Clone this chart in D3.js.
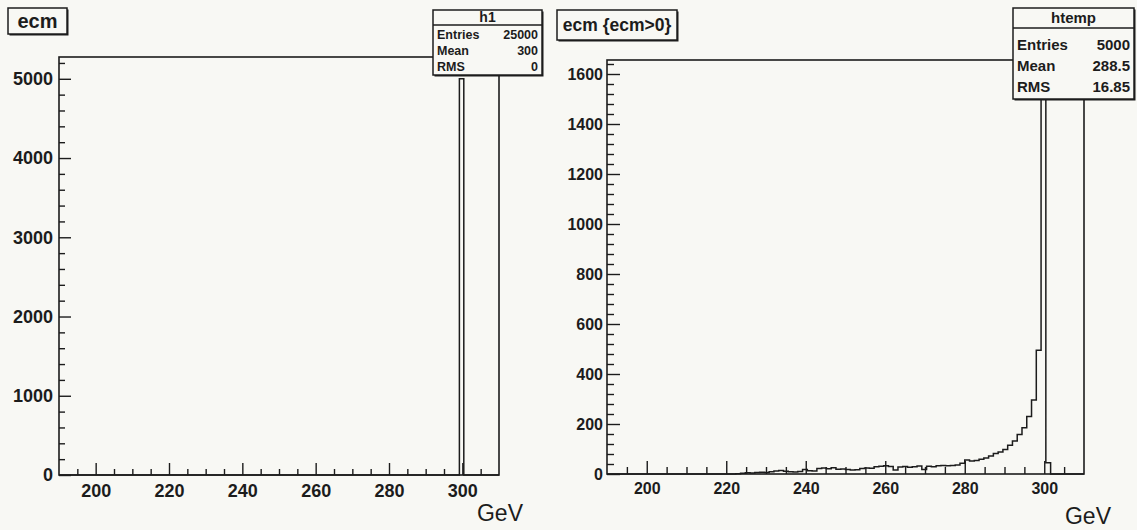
<!DOCTYPE html>
<html><head><meta charset="utf-8">
<script src="https://cdn.jsdelivr.net/npm/d3@7"></script>
<style>
html,body{margin:0;padding:0;background:#f8f8f4;}
svg{display:block;}
</style></head><body>
<svg id="c" width="1137" height="530"></svg>
<script>
// ---------------- data ----------------
const xDomain = [190, 310];          // GeV
const binWidth = 1.2;                // 100 bins over 190–310
const nBins = 100;
const xTickLabels = [200, 220, 240, 260, 280, 300];

// left histogram (h1): only one populated bin
const leftFilledBins = [91];         // bin 299.2–300.4 GeV
const leftFilledCounts = [5000];
const leftYTicks = [0, 1000, 2000, 3000, 4000, 5000];
const leftStats = [["Entries", "25000"], ["Mean", "300"], ["RMS", "0"]];

// right histogram (htemp): counts for bins 25..92
const rightFirstBin = 25;
const rightCounts = [
  0, 0, 1, 3, 5, 4, 6, 7, 6, 9,
  12, 14, 11, 9, 8, 10, 18, 13, 12, 22,
  24, 21, 25, 19, 20, 18, 16, 17, 22, 24,
  23, 29, 31, 33, 30, 16, 28, 30, 27, 29,
  32, 18, 31, 29, 33, 34, 33, 34, 36, 43,
  56, 52, 54, 59, 64, 72, 82, 88, 98, 115,
  132, 158, 185, 230, 296, 495, 1577, 45
];
const rightYTicks = [0, 200, 400, 600, 800, 1000, 1200, 1400, 1600];
const rightStats = [["Entries", "5000"], ["Mean", "288.5"], ["RMS", "16.85"]];

// ---------------- drawing ----------------
const svg = d3.select("#c");
const ink = "#1c1c1c";
const bg = "#f8f8f4";
const boldFont = "'Liberation Sans', Arial, sans-serif";
const fmt = d3.format("d");

function fullCounts(firstBin, arr) {
  const c = new Array(nBins).fill(0);
  arr.forEach((v, i) => { c[firstBin + i] = v; });
  return c;
}

function panel(o) {
  const x = d3.scaleLinear().domain(xDomain).range([o.left, o.right]);
  const y = d3.scaleLinear().domain([0, o.yTop]).range([o.bottom, o.top]);
  const g = svg.append("g");

  // histogram outline
  const pts = [[xDomain[0], 0]];
  o.counts.forEach((c, k) => {
    const lo = xDomain[0] + k * binWidth;
    pts.push([lo, c], [lo + binWidth, c]);
  });
  pts.push([xDomain[1], 0]);
  g.append("path")
    .attr("d", d3.line().x(d => x(d[0])).y(d => y(d[1]))(pts))
    .attr("fill", "none").attr("stroke", ink).attr("stroke-width", 1.5);

  // frame
  g.append("rect").attr("x", o.left).attr("y", o.top)
    .attr("width", o.right - o.left).attr("height", o.bottom - o.top)
    .attr("fill", "none").attr("stroke", ink).attr("stroke-width", 1.6);

  // y axis minor ticks
  const yMinor = d3.range(0, o.yTop, o.yMinorStep).filter(v => !o.yTicks.includes(v));
  g.append("g").attr("transform", `translate(${o.left},0)`)
    .call(d3.axisLeft(y).tickValues(yMinor).tickSizeInner(-o.minLen).tickSizeOuter(0).tickFormat(""))
    .call(s => s.select(".domain").remove())
    .selectAll("line").attr("stroke", ink).attr("stroke-width", 1.4);
  // y axis major
  const ya = g.append("g").attr("transform", `translate(${o.left},0)`)
    .call(d3.axisLeft(y).tickValues(o.yTicks).tickFormat(fmt)
      .tickSizeInner(-o.majLen).tickSizeOuter(0).tickPadding(o.yPad));
  ya.select(".domain").remove();
  ya.selectAll("line").attr("stroke", ink).attr("stroke-width", 1.4);
  ya.selectAll("text").attr("fill", ink).attr("font-family", boldFont)
    .attr("font-size", o.yFontSize).attr("font-weight", "bold");

  // x axis minor ticks (every 5 GeV)
  const xMinor = d3.range(195, 310, 5).filter(v => !xTickLabels.includes(v));
  g.append("g").attr("transform", `translate(0,${o.bottom})`)
    .call(d3.axisBottom(x).tickValues(xMinor).tickSizeInner(-o.minLen).tickSizeOuter(0).tickFormat(""))
    .call(s => s.select(".domain").remove())
    .selectAll("line").attr("stroke", ink).attr("stroke-width", 1.4);
  const xa = g.append("g").attr("transform", `translate(0,${o.bottom})`)
    .call(d3.axisBottom(x).tickValues(xTickLabels).tickFormat(fmt)
      .tickSizeInner(-o.majLen).tickSizeOuter(0).tickPadding(o.xPad));
  xa.select(".domain").remove();
  xa.selectAll("line").attr("stroke", ink).attr("stroke-width", 1.4);
  xa.selectAll("text").attr("fill", ink).attr("font-family", boldFont)
    .attr("font-size", o.xFontSize).attr("font-weight", "bold");

  // axis title
  g.append("text").attr("x", o.gevX).attr("y", o.gevY).attr("text-anchor", "end")
    .attr("font-family", boldFont).attr("font-size", 23).attr("fill", ink).text("GeV");

  // title box
  const tb = o.titleBox;
  g.append("rect").attr("x", tb.x + 1.5).attr("y", tb.y + 1.5).attr("width", tb.w).attr("height", tb.h).attr("fill", ink);
  g.append("rect").attr("x", tb.x).attr("y", tb.y).attr("width", tb.w).attr("height", tb.h)
    .attr("fill", bg).attr("stroke", ink).attr("stroke-width", 1.5);
  g.append("text").attr("x", tb.x + tb.w / 2).attr("y", tb.base).attr("text-anchor", "middle")
    .attr("font-family", boldFont).attr("font-weight", "bold").attr("font-size", tb.size)
    .attr("fill", ink).text(o.title);

  // stats box
  const sb = o.statBox;
  g.append("rect").attr("x", sb.x + 1.5).attr("y", sb.y + 1.5).attr("width", sb.w).attr("height", sb.h).attr("fill", ink);
  g.append("rect").attr("x", sb.x).attr("y", sb.y).attr("width", sb.w).attr("height", sb.h)
    .attr("fill", bg).attr("stroke", ink).attr("stroke-width", 1.5);
  g.append("line").attr("x1", sb.x).attr("x2", sb.x + sb.w).attr("y1", sb.line).attr("y2", sb.line)
    .attr("stroke", ink).attr("stroke-width", 1.3);
  g.append("text").attr("x", sb.x + sb.w / 2).attr("y", sb.headBase).attr("text-anchor", "middle")
    .attr("font-family", boldFont).attr("font-weight", "bold").attr("font-size", sb.headSize)
    .attr("fill", ink).text(o.name);
  o.stats.forEach((s, i) => {
    g.append("text").attr("x", sb.x + 4).attr("y", sb.rows[i])
      .attr("font-family", boldFont).attr("font-weight", "bold").attr("font-size", sb.size)
      .attr("fill", ink).text(s[0]);
    g.append("text").attr("x", sb.x + sb.w - 4).attr("y", sb.rows[i]).attr("text-anchor", "end")
      .attr("font-family", boldFont).attr("font-weight", "bold").attr("font-size", sb.size)
      .attr("fill", ink).text(s[1]);
  });
}

const leftCountsFull = new Array(nBins).fill(0);
leftFilledBins.forEach((b, i) => { leftCountsFull[b] = leftFilledCounts[i]; });

panel({
  left: 59, right: 499, top: 57, bottom: 475, yTop: 5275,
  counts: leftCountsFull, yTicks: leftYTicks, yMinorStep: 200,
  majLen: 12, minLen: 6, yPad: 6, xPad: 9,
  yFontSize: 18, xFontSize: 18,
  gevX: 523, gevY: 521,
  title: "ecm", titleBox: { x: 8, y: 8, w: 59, h: 26, base: 28, size: 20 },
  name: "h1", stats: leftStats,
  statBox: { x: 433, y: 10, w: 109, h: 65, line: 25, headBase: 22, headSize: 14,
             rows: [38.5, 55, 71], size: 12.5 }
});

panel({
  left: 607, right: 1084, top: 60, bottom: 474, yTop: 1656,
  counts: fullCounts(rightFirstBin, rightCounts), yTicks: rightYTicks, yMinorStep: 40,
  majLen: 13, minLen: 7, yPad: 4, xPad: 9,
  yFontSize: 16, xFontSize: 16,
  gevX: 1111, gevY: 524,
  title: "ecm {ecm>0}", titleBox: { x: 557, y: 10, w: 120, h: 30, base: 31, size: 17.5 },
  name: "htemp", stats: rightStats,
  statBox: { x: 1013, y: 8, w: 121, h: 91, line: 28, headBase: 23, headSize: 15,
             rows: [50, 71, 92], size: 15 }
});
</script>
</body></html>
